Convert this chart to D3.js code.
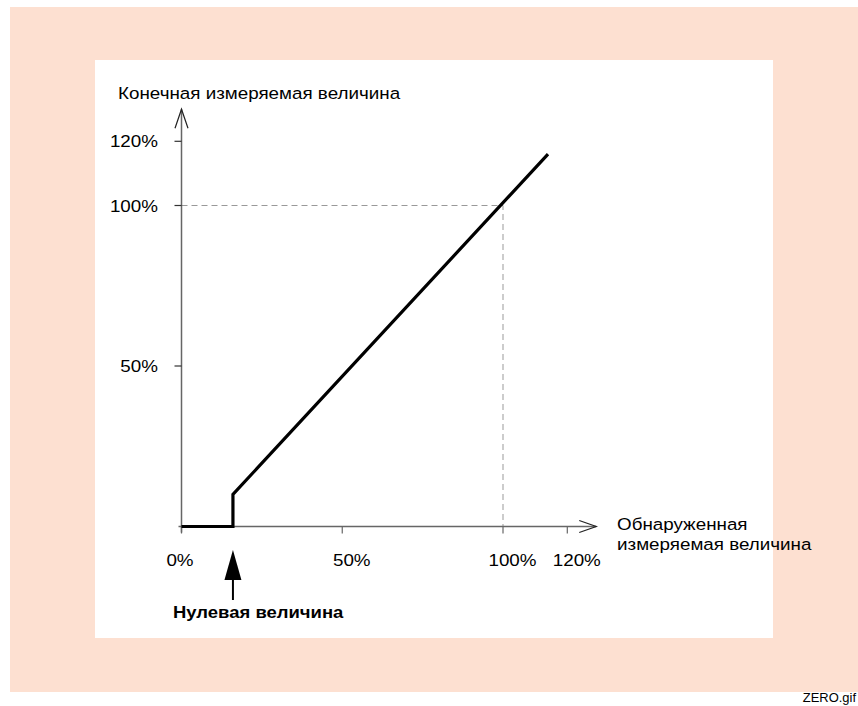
<!DOCTYPE html>
<html>
<head>
<meta charset="utf-8">
<script src="https://cdn.jsdelivr.net/npm/d3@7"></script>
<style>
  body { margin: 0; background: #fff; }
  text { font-family: "Liberation Sans", Arial, sans-serif; fill: #000; }
</style>
</head>
<body>
<svg width="858" height="706"></svg>
<script>
// curve: output vs detected value, with a zero offset
let detected = [0, 16, 16, 114]
let output = [0, 0, 10, 116]
let xTicks = [0, 50, 100, 120]
let yTicks = [50, 100, 120]
let refValue = 100
let zeroValue = 16

let svg = d3.select('svg')

// text in the source is a bit wider than Liberation Sans, stretch it
function addText(parent, tx, ty, str, size, sx, anchor) {
    return parent.append('text')
        .attr('transform', 'translate(' + tx + ',' + ty + ') scale(' + sx + ',1)')
        .attr('font-size', size)
        .attr('text-anchor', anchor || 'start')
        .text(str)
}

// backgrounds
svg.append('rect').attr('x', 10).attr('y', 7).attr('width', 848).attr('height', 685).attr('fill', '#fde0d1')
svg.append('rect').attr('x', 95).attr('y', 60).attr('width', 678).attr('height', 578).attr('fill', '#fff')

let x = d3.scaleLinear().domain([0, 100]).range([181.5, 503])
let y = d3.scaleLinear().domain([0, 100]).range([526.5, 205.5])

// dashed reference lines at 100%
svg.append('path')
    .attr('d', d3.line()([[x(0), y(refValue)], [x(refValue), y(refValue)], [x(refValue), y(0)]]))
    .attr('fill', 'none')
    .attr('stroke', '#999')
    .attr('stroke-width', 1)
    .attr('stroke-dasharray', '6,4')

// axes
let axisColor = '#666'
svg.append('line').attr('x1', x(0) - 3).attr('y1', y(0)).attr('x2', x(129)).attr('y2', y(0))
    .attr('stroke', axisColor).attr('stroke-width', 1.5)
svg.append('line').attr('x1', x(0)).attr('y1', y(0) + 6).attr('x2', x(0)).attr('y2', y(130))
    .attr('stroke', axisColor).attr('stroke-width', 1.5)

// open arrow heads
let xEnd = x(129), yEnd = y(130)
svg.append('path')
    .attr('d', d3.line()([[xEnd - 17, y(0) - 6], [xEnd, y(0)], [xEnd - 17, y(0) + 6]]))
    .attr('fill', 'none').attr('stroke', '#222').attr('stroke-width', 1.2)
svg.append('path')
    .attr('d', d3.line()([[x(0) - 6.5, yEnd + 19], [x(0), yEnd], [x(0) + 6.5, yEnd + 19]]))
    .attr('fill', 'none').attr('stroke', '#222').attr('stroke-width', 1.2)

// ticks
svg.append('g').selectAll('line').data(xTicks).enter().append('line')
    .attr('x1', d => x(d)).attr('x2', d => x(d))
    .attr('y1', y(0)).attr('y2', y(0) + 7)
    .attr('stroke', axisColor).attr('stroke-width', 1.2)
svg.append('g').selectAll('line').data(yTicks).enter().append('line')
    .attr('x1', x(0) - 7).attr('x2', x(0))
    .attr('y1', d => y(d)).attr('y2', d => y(d))
    .attr('stroke', '#333').attr('stroke-width', 1.2)

// tick labels
let xl = svg.append('g')
xTicks.forEach(d => addText(xl, x(d) + (d === 0 ? -1.5 : 9.5), y(0) + 39, d + '%', 16.5, 1.14, 'middle'))
let yl = svg.append('g')
yTicks.forEach(d => addText(yl, x(0) - 23.5, y(d) + 6, d + '%', 16.5, 1.14, 'end'))

// curve
svg.append('path')
    .attr('d', d3.line().x(d => x(d[0])).y(d => y(d[1]))(d3.zip(detected, output)))
    .attr('fill', 'none')
    .attr('stroke', '#000')
    .attr('stroke-width', 3.2)
    .attr('stroke-linejoin', 'miter')

// axis titles
addText(svg, 118, 98.5, 'Конечная измеряемая величина', 16.5, 1.14)
addText(svg, 617, 530, 'Обнаруженная', 16.5, 1.14)
addText(svg, 617, 550, 'измеряемая величина', 16.5, 1.14)

// zero value marker
let zx = x(zeroValue)
svg.append('path')
    .attr('d', d3.line()([[zx, 550], [zx + 8.5, 580], [zx - 8.5, 580]]) + 'Z')
    .attr('fill', '#000')
svg.append('line').attr('x1', zx).attr('x2', zx).attr('y1', 578).attr('y2', 600)
    .attr('stroke', '#000').attr('stroke-width', 2)
addText(svg, 173, 618, 'Нулевая величина', 16.5, 1.12).attr('font-weight', 'bold')

addText(svg, 856, 702, 'ZERO.gif', 12, 1.08, 'end')
</script>
</body>
</html>
